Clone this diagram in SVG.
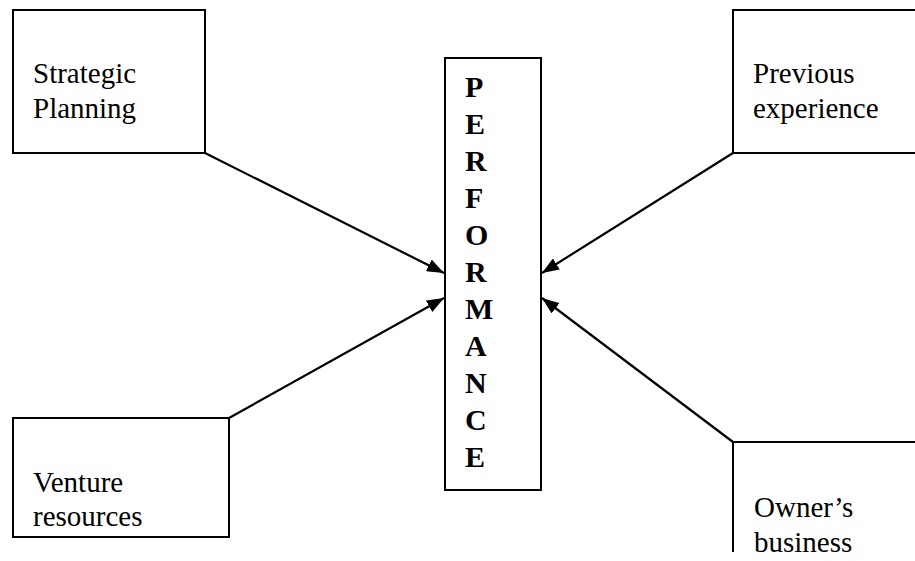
<svg xmlns="http://www.w3.org/2000/svg" width="915" height="561" viewBox="0 0 915 561">
  <style>
    .box { fill: #ffffff; stroke: #000000; stroke-width: 2; }
    .lbl { font-size: 29px; fill: #000000; }
    .perf { font-size: 30px; font-weight: bold; fill: #000000; }
    .conn { stroke: #000000; stroke-width: 2.2; fill: none; marker-end: url(#arrow); }
  </style>
  <defs>
    <marker id="arrow" markerUnits="userSpaceOnUse" markerWidth="17" markerHeight="13" viewBox="0 0 17 13" refX="17" refY="6.5" orient="auto">
      <path d="M0,0 L17,6.5 L0,13 Z" fill="#000000"/>
    </marker>
  </defs>
  <rect width="915" height="561" fill="#ffffff"/>

  <g font-family="Liberation Serif, Times New Roman, DejaVu Serif, serif">
  <g id="strategic-planning">
    <rect class="box" x="13" y="10" width="192" height="143"/>
    <text class="lbl" x="33" y="83">Strategic</text>
    <text class="lbl" x="33" y="118">Planning</text>
  </g>

  <g id="previous-experience">
    <path class="box" d="M916 10 H733 V153 H916"/>
    <text class="lbl" x="753" y="83">Previous</text>
    <text class="lbl" x="753" y="118">experience</text>
  </g>

  <g id="venture-resources">
    <rect class="box" x="13" y="418" width="216" height="119"/>
    <text class="lbl" x="33" y="492">Venture</text>
    <text class="lbl" x="33" y="526">resources</text>
  </g>

  <g id="owners-business">
    <path class="box" d="M733 552 V442 H916"/>
    <text class="lbl" x="754" y="517">Owner’s</text>
    <text class="lbl" x="754" y="552">business</text>
  </g>

  <g id="performance">
    <rect class="box" x="445" y="58" width="96" height="432"/>
    <text class="perf" x="465" y="97">P</text>
    <text class="perf" x="465" y="134">E</text>
    <text class="perf" x="465" y="171">R</text>
    <text class="perf" x="465" y="208">F</text>
    <text class="perf" x="465" y="245">O</text>
    <text class="perf" x="465" y="282">R</text>
    <text class="perf" x="465" y="319">M</text>
    <text class="perf" x="465" y="356">A</text>
    <text class="perf" x="465" y="393">N</text>
    <text class="perf" x="465" y="430">C</text>
    <text class="perf" x="465" y="467">E</text>
  </g>
  </g>

  <g id="connectors">
    <line class="conn" x1="205" y1="153" x2="444" y2="273"/>
    <line class="conn" x1="229" y1="418" x2="444" y2="298"/>
    <line class="conn" x1="733" y1="153" x2="542" y2="273"/>
    <line class="conn" x1="733" y1="442" x2="542" y2="298"/>
  </g>
</svg>
